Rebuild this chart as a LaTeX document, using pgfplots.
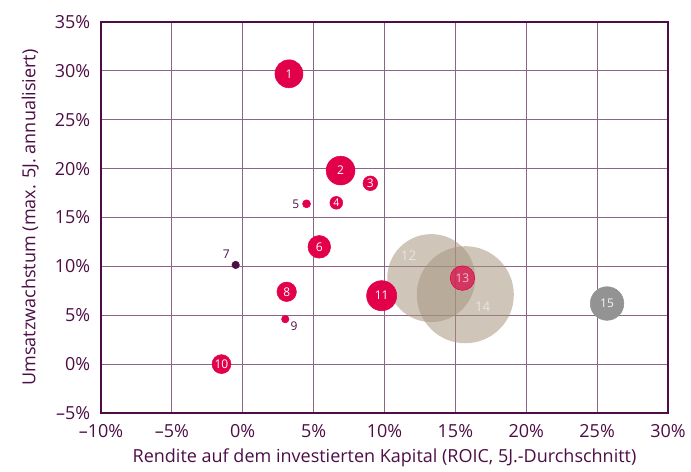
\documentclass[border=0pt]{standalone}
\usepackage{fontspec}
\setmainfont{Open Sans}
\usepackage{pgfplots}
\pgfplotsset{compat=1.18}
\definecolor{crim}{HTML}{E2004A}
\definecolor{darkp}{HTML}{4D0E45}
\definecolor{gridp}{HTML}{8C6488}
\definecolor{beige}{HTML}{A6947D}
\definecolor{greyb}{HTML}{939393}
\pgfplotsset{
  bub/.style={only marks, mark=*, mark size=#1, point meta=explicit symbolic,
    nodes near coords, nodes near coords align={center},
    every node near coord/.append style={font=\fontsize{9}{10}\selectfont, text=white, inner sep=0pt}},
}
\begin{document}
\begin{tikzpicture}
\begin{axis}[
  scale only axis, width=425.25pt, height=293.25pt,
  xmin=-10, xmax=30, ymin=-5, ymax=35,
  xtick={-10,-5,...,30}, ytick={-5,0,...,35},
  xticklabels={--10\%,--5\%,0\%,5\%,10\%,15\%,20\%,25\%,30\%},
  yticklabels={--5\%,0\%,5\%,10\%,15\%,20\%,25\%,30\%,35\%},
  grid=major, major grid style={draw=gridp, line width=0.9pt},
  major tick length=0pt,
  axis line style={draw=darkp, line width=0.9pt},
  ticklabel style={font=\fontsize{13.5}{15}\selectfont, text=darkp},
  xticklabel style={yshift=-5pt},
  yticklabel style={xshift=-4.5pt},
  xlabel={Rendite auf dem investierten Kapital (ROIC, 5J.-Durchschnitt)},
  ylabel={Umsatzwachstum (max. 5J. annualisiert)},
  label style={font=\fontsize{13.5}{15}\selectfont, text=darkp},
  xlabel style={at={(axis description cs:0.5,-0.115)}, anchor=center},
  ylabel style={at={(axis description cs:-0.1247,0.5)}, anchor=center},
  clip=false,
]
% large beige bubbles
\addplot[bub=33pt, color=beige, mark options={draw=none, draw opacity=0, fill=beige, fill opacity=0.54},
  every node near coord/.append style={xshift=-17pt, yshift=17pt, font=\fontsize{10}{11}\selectfont}]
  coordinates {(13.3,8.8)[12]};
\addplot[bub=36.4pt, color=beige, mark options={draw=none, draw opacity=0, fill=beige, fill opacity=0.54},
  every node near coord/.append style={xshift=13pt, yshift=-9pt, font=\fontsize{10}{11}\selectfont}]
  coordinates {(15.7,7.1)[14]};
% red bubbles
\addplot[bub=10.5pt, color=crim, mark options={draw=none, fill=crim}] coordinates {(3.26,29.7)[1]};
\addplot[bub=10.8pt, color=crim, mark options={draw=none, fill=crim}] coordinates {(6.9,19.8)[2]};
\addplot[bub=5.5pt, color=crim, mark options={draw=none, fill=crim}] coordinates {(9.0,18.5)[3]};
\addplot[bub=4.8pt, color=crim, mark options={draw=none, fill=crim},
  every node near coord/.append style={font=\fontsize{8}{9}\selectfont}] coordinates {(6.6,16.5)[4]};
\addplot[bub=3pt, color=crim, mark options={draw=none, fill=crim},
  every node near coord/.append style={text=darkp, xshift=-8pt}] coordinates {(4.5,16.4)[5]};
\addplot[bub=8.5pt, color=crim, mark options={draw=none, fill=crim}] coordinates {(5.4,12.0)[6]};
\addplot[bub=2.8pt, color=darkp, mark options={draw=none, fill=darkp},
  every node near coord/.append style={text=darkp, xshift=-7pt, yshift=8pt}] coordinates {(-0.5,10.15)[7]};
\addplot[bub=7.3pt, color=crim, mark options={draw=none, fill=crim}] coordinates {(3.1,7.4)[8]};
\addplot[bub=2.8pt, color=crim, mark options={draw=none, fill=crim},
  every node near coord/.append style={text=darkp, xshift=6.5pt, yshift=-5pt}] coordinates {(3.0,4.6)[9]};
\addplot[bub=7.1pt, color=crim, mark options={draw=none, fill=crim}] coordinates {(-1.5,0.0)[10]};
\addplot[bub=11.3pt, color=crim, mark options={draw=none, fill=crim}] coordinates {(9.8,7.0)[11]};
\addplot[bub=9.2pt, color=crim, mark options={draw=none, fill=crim, fill opacity=0.68}] coordinates {(15.5,8.8)[13]};
\addplot[bub=12.6pt, color=greyb, mark options={draw=none, fill=greyb},
  every node near coord/.append style={text=white!92!greyb}] coordinates {(25.7,6.2)[15]};
\end{axis}
\pgfresetboundingbox
\path[use as bounding box] ([shift={(-75.75pt,-43.5pt)}]current axis.south west) rectangle ([shift={(17.25pt,16.5pt)}]current axis.north east);
\end{tikzpicture}
\end{document}
